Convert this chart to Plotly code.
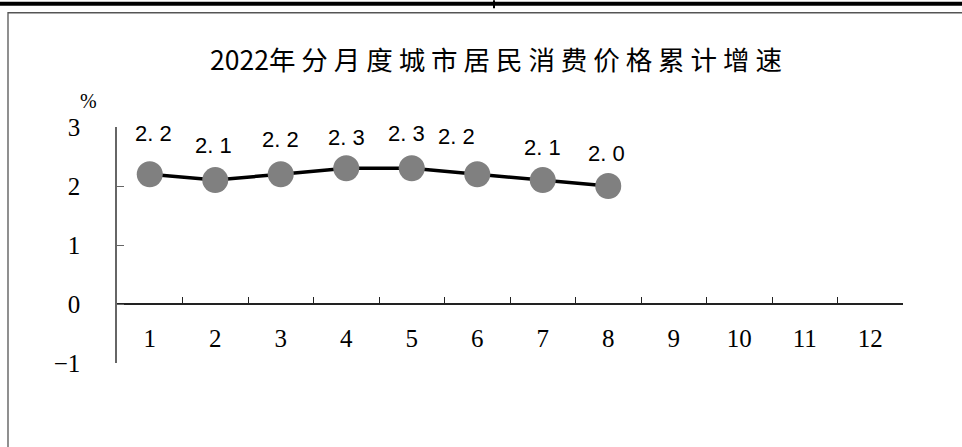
import plotly.graph_objects as go

# ---- data ----
months = ["1", "2", "3", "4", "5", "6", "7", "8", "9", "10", "11", "12"]
cpi_months = ["1", "2", "3", "4", "5", "6", "7", "8"]
cpi_values = [2.2, 2.1, 2.2, 2.3, 2.3, 2.2, 2.1, 2.0]
y_ticks = [-1, 0, 1, 2, 3]
title_text = "2022年 分 月 度 城 市 居 民 消 费 价 格 累 计 增 速"
unit_text = "%"

# label nudges (pixels), style only
label_dx = [4, -2, 0, 0, -5, -21, 0, -2]
label_dy = [41, 35, 35, 31, 35, 38, 33, 33]

W, H = 962, 447
L, R, T, B = 117, 59, 127, 83.5
pw, ph = W - L - R, H - T - B


def px2x(px):
    return (px - L) / pw


def px2y(py):
    return (H - B - py) / ph


fig = go.Figure()
fig.add_trace(go.Scatter(
    x=cpi_months, y=cpi_values, mode="lines+markers",
    line=dict(color="black", width=3.5),
    marker=dict(size=26, color="#808080", line=dict(width=0)),
    hoverinfo="skip", showlegend=False,
))

for m, v, dx, dy in zip(cpi_months, cpi_values, label_dx, label_dy):
    fig.add_annotation(
        x=months.index(m), y=v, text=f"{v:.1f}".replace(".", ". "), showarrow=False,
        xshift=dx, yshift=dy,
        font=dict(family="Liberation Sans, Arial, sans-serif", size=22, color="black"),
    )

fig.add_annotation(
    xref="paper", yref="paper", x=px2x(78), y=px2y(88), text=unit_text,
    showarrow=False, font=dict(family="Liberation Serif, serif", size=20, color="black"),
)

shapes = [
    # outer frame
    dict(type="rect", xref="paper", yref="paper", x0=px2x(8), x1=px2x(1100),
         y0=px2y(600), y1=px2y(12.5), line=dict(color="#555555", width=1.3),
         fillcolor="rgba(0,0,0,0)", layer="below"),
    # top thick rule
    dict(type="line", xref="paper", yref="paper", x0=px2x(-10), x1=px2x(1000),
         y0=px2y(3.5), y1=px2y(3.5), line=dict(color="black", width=4)),
    dict(type="line", xref="paper", yref="paper", x0=px2x(494), x1=px2x(494),
         y0=px2y(0), y1=px2y(8), line=dict(color="black", width=2)),
]

fig.update_layout(
    width=W, height=H,
    margin=dict(l=L, r=R, t=T, b=B, pad=0, autoexpand=False),
    paper_bgcolor="white", plot_bgcolor="white",
    shapes=shapes,
    title=dict(
        text=title_text, xref="container", yref="container",
        x=496 / W, y=1 - 61 / H, xanchor="center", yanchor="middle",
        font=dict(family="Noto Sans CJK SC, sans-serif", size=26.5, color="black", weight=400),
    ),
    xaxis=dict(
        type="category", categoryorder="array", categoryarray=months,
        tickmode="array", tickvals=months, ticktext=months,
        range=[-0.5, 11.5], anchor="free", position=0.25,
        showline=True, linecolor="#222222", linewidth=1.5,
        ticks="inside", ticklen=6, tickwidth=1.2, tickcolor="#222222",
        tickson="boundaries", showgrid=False, zeroline=False,
        ticklabelstandoff=12, automargin=False,
        tickfont=dict(family="Liberation Serif, Times New Roman, serif", size=25, color="black"),
        fixedrange=True,
    ),
    yaxis=dict(
        range=[-1, 3], tickmode="array", tickvals=y_ticks,
        showline=True, linecolor="#666666", linewidth=1.5,
        ticks="inside", ticklen=7, tickwidth=1.2, tickcolor="#666666",
        showgrid=False, zeroline=False, ticklabelstandoff=30, automargin=False,
        tickfont=dict(family="Liberation Serif, Times New Roman, serif", size=25, color="black"),
        fixedrange=True,
    ),
)

fig.write_html(
    "out.html",
    config={"displayModeBar": False},
    post_script="document.body.style.margin='0px';document.body.style.overflow='hidden';",
)
